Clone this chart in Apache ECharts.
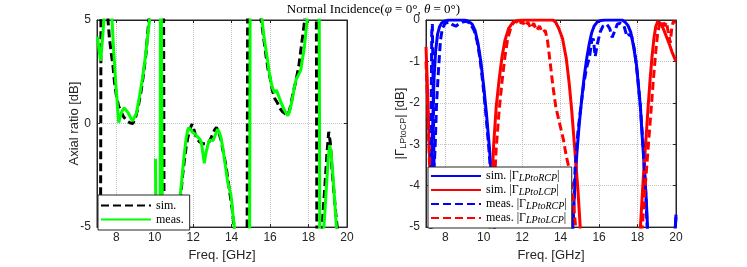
<!DOCTYPE html>
<html><head><meta charset="utf-8">
<script src="https://cdn.jsdelivr.net/npm/echarts@6/dist/echarts.min.js"></script>
<style>html,body{margin:0;padding:0;background:#fff}#c{width:747px;height:267px}</style>
</head><body><div id="c"></div>
<script>
// ---- tick labels ----
const xTicks = [8, 10, 12, 14, 16, 18, 20];
const arTicks = [-5, 0, 5];
const gTicks = [0, -1, -2, -3, -4, -5];

// ---- Axial ratio (left) : [freq GHz, dB] ; +/-12 = outside the plotted range ----
const arSim = [[7.0,-12],[7.17,-12],[7.22,12],[7.5,12],[7.57,5.0],[7.65,4.1],[7.74,3.4],[7.83,2.8],[7.91,2.0],[8.0,1.4],[8.12,0.85],[8.26,0.55],[8.4,0.3],[8.6,0.1],[8.75,0.02],[8.86,0.0],[8.97,0.2],[9.05,0.45],[9.15,0.85],[9.3,1.6],[9.42,2.4],[9.55,3.4],[9.64,4.4],[9.7,5.0],[9.78,12],[10.45,12],[10.5,-12],[11.15,-12],[11.24,-5],[11.35,-3.5],[11.45,-2.5],[11.54,-1.8],[11.64,-1.1],[11.73,-0.65],[11.84,-0.25],[11.94,-0.03],[12.04,-0.3],[12.14,-0.6],[12.3,-0.85],[12.49,-0.97],[12.65,-0.98],[12.8,-0.92],[12.92,-0.72],[13.02,-0.5],[13.12,-0.3],[13.21,-0.18],[13.32,-0.4],[13.44,-0.75],[13.55,-1.3],[13.7,-2.0],[13.87,-3.1],[14.04,-4.2],[14.13,-5.0],[14.18,-12],[14.79,-12],[14.85,12],[15.45,12],[15.53,5.0],[15.6,4.6],[15.7,3.9],[15.8,3.2],[15.9,2.6],[16.0,2.2],[16.12,1.6],[16.25,1.2],[16.38,1.0],[16.5,0.75],[16.64,0.58],[16.78,0.48],[16.9,0.42],[17.0,0.6],[17.1,1.0],[17.2,1.5],[17.33,2.0],[17.5,2.8],[17.62,3.7],[17.72,4.4],[17.8,5.0],[17.88,12],[18.39,12],[18.45,-12],[18.62,-12],[18.7,-5],[18.8,-3.7],[18.88,-2.6],[18.96,-1.4],[19.05,-0.4],[19.13,-0.9],[19.22,-2.2],[19.3,-3.1],[19.4,-4.2],[19.49,-5],[19.55,-12],[20,-12]];
const arMeas = [[7.02,4.2],[7.1,3.6],[7.19,3.03],[7.28,4.0],[7.36,5.0],[7.42,12],[7.72,12],[7.78,5.0],[7.85,3.8],[7.91,2.9],[7.97,2.0],[8.03,1.3],[8.08,0.6],[8.13,0.05],[8.2,0.3],[8.3,0.6],[8.42,0.76],[8.52,0.72],[8.62,0.52],[8.75,0.28],[8.85,0.12],[8.95,0.08],[9.05,0.5],[9.21,1.3],[9.35,2.1],[9.47,2.9],[9.6,3.9],[9.73,5.0],[9.8,12],[9.9,null],[10.04,-1.7],[10.07,-5],[10.09,-12],[10.27,-12],[10.31,12],[10.39,12],[10.44,-12],[11.1,-12],[11.17,-5],[11.27,-4.0],[11.37,-3.1],[11.5,-1.8],[11.63,-0.74],[11.72,-0.3],[11.77,-0.19],[11.87,-0.3],[11.97,-0.42],[12.1,-0.5],[12.24,-0.66],[12.35,-0.75],[12.43,-0.95],[12.5,-1.4],[12.58,-1.92],[12.67,-1.4],[12.76,-1.05],[12.85,-0.8],[12.93,-0.74],[13.04,-0.82],[13.15,-0.55],[13.27,-0.27],[13.35,-0.4],[13.44,-0.66],[13.53,-1.1],[13.62,-1.68],[13.7,-2.2],[13.79,-2.78],[13.88,-3.15],[13.96,-3.41],[14.02,-3.9],[14.08,-4.5],[14.15,-5],[14.2,-12],[14.92,-12],[14.98,12],[15.5,12],[15.58,5.0],[15.68,4.2],[15.78,3.6],[15.88,3.0],[15.95,2.5],[16.05,2.0],[16.13,1.7],[16.24,1.5],[16.33,1.62],[16.4,1.65],[16.5,1.2],[16.6,0.95],[16.73,0.68],[16.84,0.5],[16.92,0.38],[17.0,0.55],[17.1,0.91],[17.2,1.4],[17.28,1.85],[17.36,2.15],[17.45,2.3],[17.53,2.45],[17.6,2.6],[17.68,3.1],[17.76,3.5],[17.85,4.3],[17.93,5.0],[18.0,12],[18.54,12],[18.6,-12],[18.74,-12],[18.8,-5],[18.88,-3.8],[18.96,-2.6],[19.03,-1.6],[19.1,-1.05],[19.17,-1.4],[19.25,-2.3],[19.32,-3.2],[19.4,-4.3],[19.45,-5],[19.5,-12],[20,-12]];

// ---- |Gamma LPtoCP| (right) ----
const rcpSim = [[7.2,-12],[7.25,-5],[7.3,-3.6],[7.35,-2.5],[7.42,-1.4],[7.5,-0.75],[7.6,-0.35],[7.7,-0.17],[7.8,-0.08],[7.95,-0.03],[8.2,0],[9.0,0],[9.2,-0.03],[9.4,-0.1],[9.55,-0.25],[9.7,-0.55],[9.85,-1.0],[10.0,-1.6],[10.15,-2.3],[10.3,-3.1],[10.42,-3.9],[10.56,-5],[10.62,-12],[14.55,-12],[14.62,-5],[14.72,-4.2],[14.84,-3.25],[14.97,-2.5],[15.1,-1.9],[15.23,-1.35],[15.36,-0.92],[15.5,-0.55],[15.62,-0.3],[15.75,-0.14],[15.9,-0.05],[16.1,-0.01],[16.3,0],[17.2,0],[17.35,-0.05],[17.5,-0.13],[17.65,-0.3],[17.8,-0.65],[17.95,-1.1],[18.05,-1.6],[18.15,-2.1],[18.22,-2.65],[18.3,-3.2],[18.38,-3.8],[18.45,-4.3],[18.52,-5],[18.58,-12],[19.9,-12],[19.95,-5.1],[20,-4.7]];
const lcpSim = [[7.0,-0.65],[7.05,-1.3],[7.1,-2.0],[7.15,-2.8],[7.2,-3.5],[7.25,-4.3],[7.3,-5],[7.35,-12],[10.28,-12],[10.33,-5],[10.42,-4.0],[10.52,-3.0],[10.65,-2.1],[10.8,-1.45],[10.95,-0.9],[11.1,-0.5],[11.3,-0.2],[11.5,-0.07],[11.7,-0.02],[12.0,0],[13.6,0],[13.75,-0.06],[13.9,-0.2],[14.1,-0.45],[14.3,-0.95],[14.45,-1.55],[14.58,-2.2],[14.75,-3.2],[14.9,-4.1],[15.02,-5],[15.08,-12],[18.08,-12],[18.15,-5],[18.3,-3.8],[18.42,-3.0],[18.55,-2.1],[18.65,-1.45],[18.75,-0.9],[18.85,-0.45],[18.95,-0.15],[19.05,-0.04],[19.1,-0.02],[19.2,-0.08],[19.35,-0.22],[19.5,-0.4],[19.65,-0.58],[19.8,-0.78],[20.0,-1.0]];
const rcpMeas = [[7.2,-12],[7.24,-5],[7.27,-2.0],[7.3,-0.3],[7.33,-0.1],[7.37,-1.5],[7.42,-3.6],[7.48,-3.0],[7.55,-2.0],[7.65,-1.2],[7.75,-0.5],[7.85,-0.2],[8.0,-0.08],[8.2,-0.05],[8.4,-0.12],[8.55,-0.15],[8.7,-0.1],[8.9,-0.05],[9.1,-0.03],[9.3,-0.08],[9.5,-0.25],[9.65,-0.5],[9.8,-0.9],[9.95,-1.5],[10.1,-2.2],[10.25,-3.0],[10.4,-3.9],[10.55,-5],[10.6,-12],[14.58,-12],[14.65,-5],[14.75,-3.6],[14.9,-2.7],[15.05,-2.1],[15.2,-1.55],[15.35,-1.15],[15.5,-0.9],[15.62,-0.5],[15.7,-0.45],[15.8,-0.88],[15.9,-0.6],[16.05,-0.3],[16.2,-0.15],[16.4,-0.1],[16.55,-0.2],[16.68,-0.42],[16.8,-0.28],[16.95,-0.1],[17.1,-0.08],[17.3,-0.15],[17.45,-0.4],[17.55,-0.35],[17.7,-0.4],[17.85,-0.75],[18.0,-1.35],[18.15,-2.1],[18.3,-3.1],[18.42,-4.1],[18.5,-5],[18.56,-12],[19.9,-12],[19.95,-5.1],[20,-4.75]];
const lcpMeas = [[7.0,-1.0],[7.05,-1.6],[7.15,-3.0],[7.25,-4.5],[7.3,-5],[7.35,-12],[10.4,-12],[10.45,-5],[10.55,-4.0],[10.65,-3.1],[10.8,-2.2],[10.95,-1.5],[11.1,-0.9],[11.25,-0.45],[11.4,-0.2],[11.55,-0.06],[11.7,-0.03],[11.85,-0.12],[12.0,-0.02],[12.15,-0.15],[12.3,-0.05],[12.45,-0.2],[12.6,-0.08],[12.75,-0.25],[12.9,-0.15],[13.05,-0.3],[13.2,-0.25],[13.32,-0.5],[13.45,-1.0],[13.6,-1.6],[13.75,-2.1],[13.95,-2.5],[14.15,-2.9],[14.3,-3.3],[14.5,-3.7],[14.65,-4.3],[14.78,-5],[14.84,-12],[18.2,-12],[18.25,-5],[18.4,-4.0],[18.55,-3.1],[18.7,-2.2],[18.82,-1.45],[18.95,-0.75],[19.05,-0.3],[19.15,-0.1],[19.3,-0.02],[19.4,-0.15],[19.5,-0.05],[19.6,-0.3],[19.7,-0.55],[19.78,-0.2],[19.85,-0.05],[19.95,-0.02],[20,-0.05]];

const legendSub = {sR:['sim.','LPtoRCP'], sL:['sim.','LPtoLCP'], mR:['meas.','LPtoRCP'], mL:['meas.','LPtoLCP']};

const axisCol = '#262626';
const sans = 'Liberation Sans';
const serif = 'Liberation Serif';
const gridLine = {show:true, lineStyle:{type:'dotted', color:'#c4c4c4', width:1}};
const fmt = ticks => v => { const r = Math.round(v*1000)/1000; return ticks.indexOf(r) >= 0 ? String(r) : ''; };

function xAx(gi, pos, main) {
  return {
    gridIndex: gi, type: 'value', min: 7, max: 20, interval: 0.5, position: pos,
    axisLine: {show: true, onZero: false, lineStyle: {color: axisCol, width: 1}},
    axisTick: {show: true, inside: true, length: 3, customValues: xTicks, lineStyle: {color: axisCol}},
    axisLabel: {show: main, customValues: xTicks, formatter: fmt(xTicks), color: axisCol, fontSize: 12, fontFamily: sans, margin: 5},
    splitLine: main ? gridLine : {show: false},
    name: main ? 'Freq. [GHz]' : '', nameLocation: 'middle', nameGap: 16,
    nameTextStyle: {fontSize: 13, fontFamily: sans, color: axisCol}
  };
}
function yAx(gi, pos, main, min, max, interval, ticks, name) {
  return {
    gridIndex: gi, type: 'value', min: min, max: max, interval: interval, position: pos,
    axisLine: {show: true, onZero: false, lineStyle: {color: axisCol, width: 1}},
    axisTick: {show: true, inside: true, length: 3, customValues: ticks, lineStyle: {color: axisCol}},
    axisLabel: {show: main, customValues: ticks, formatter: fmt(ticks), color: axisCol, fontSize: 12, fontFamily: sans, margin: 6},
    splitLine: main ? gridLine : {show: false},
    name: main ? name : '', nameLocation: 'middle', nameGap: gi === 1 ? 18 : 16,
    nameMoveOverlap: false,
    nameTextStyle: {fontSize: 13, fontFamily: sans, color: axisCol,
      rich: {g: {fontSize: 13, fontFamily: sans, color: axisCol, lineHeight: 16},
             s: {fontSize: 9, fontFamily: sans, color: axisCol, lineHeight: 9, verticalAlign: 'bottom'}}}
  };
}

function ln(name, data, color, dashed, xi, yi) {
  return {
    name: name, type: 'line', xAxisIndex: xi, yAxisIndex: yi, data: data,
    showSymbol: false, symbol: 'none', clip: true, connectNulls: false,
    color: color,
    lineStyle: {color: color, width: 3, type: dashed ? [8, 4] : 'solid'},
    emphasis: {disabled: true}, animation: false
  };
}

const chart = echarts.init(document.getElementById('c'), null, {renderer: 'canvas'});
chart.setOption({
  animation: false,
  backgroundColor: '#ffffff',
  title: {
    text: '{n|Normal Incidence(}{i|φ}{n| = 0°, }{i|θ}{n| = 0°)}',
    left: 'center', top: 3, padding: 0,
    textStyle: {fontWeight: 'normal', rich: {
      n: {fontFamily: serif, fontSize: 13, fontWeight: 'normal', color: '#000'},
      i: {fontFamily: serif, fontSize: 13, fontWeight: 'normal', fontStyle: 'italic', color: '#000'}
    }}
  },
  grid: [
    {left: 97, top: 20, width: 250, height: 212, show: true, borderColor: axisCol, borderWidth: 1, backgroundColor: '#fff'},
    {left: 426, top: 20, width: 250, height: 212, show: true, borderColor: axisCol, borderWidth: 1, backgroundColor: '#fff'}
  ],
  xAxis: [xAx(0, 'bottom', true), xAx(0, 'top', false), xAx(1, 'bottom', true), xAx(1, 'top', false)],
  yAxis: [
    yAx(0, 'left', true, -5, 5, 1, arTicks, 'Axial ratio [dB]'),
    yAx(0, 'right', false, -5, 5, 1, arTicks, ''),
    yAx(1, 'left', true, -5, 0, 0.2, gTicks, '{g||Γ}{s|LPtoCP}{g|| [dB]}'),
    yAx(1, 'right', false, -5, 0, 0.2, gTicks, '')
  ],
  legend: [
    {
      data: ['sim.', 'meas.'], orient: 'vertical', left: 98, top: 195,
      itemWidth: 50, itemHeight: 12, itemGap: 1, padding: [4, 6, 4, 2],
      borderColor: axisCol, borderWidth: 1, backgroundColor: '#fff', selectedMode: false,
      itemStyle: {opacity: 0},
      textStyle: {fontFamily: serif, fontSize: 12, color: '#000', lineHeight: 13}
    },
    {
      data: ['sR', 'sL', 'mR', 'mL'], orient: 'vertical', left: 428, top: 167,
      itemWidth: 50, itemHeight: 14, itemGap: 1, padding: [3, 5, 3, 2],
      borderColor: axisCol, borderWidth: 1, backgroundColor: '#fff', selectedMode: false,
      itemStyle: {opacity: 0},
      formatter: n => '{t|' + legendSub[n][0] + ' |Γ}{s|' + legendSub[n][1] + '}{t||}',
      textStyle: {fontFamily: serif, fontSize: 12, color: '#000',
        rich: {t: {fontFamily: serif, fontSize: 12, color: '#000', lineHeight: 14},
               s: {fontFamily: serif, fontSize: 10, fontStyle: 'italic', color: '#000', lineHeight: 10, verticalAlign: 'bottom'}}}
    }
  ],
  series: [
    ln('sim.', arSim, '#000000', true, 0, 0),
    ln('meas.', arMeas, '#00ff00', false, 0, 0),
    ln('sR', rcpSim, '#0000ff', false, 2, 2),
    ln('sL', lcpSim, '#ff0000', false, 2, 2),
    ln('mR', rcpMeas, '#0000ff', true, 2, 2),
    ln('mL', lcpMeas, '#ff0000', true, 2, 2)
  ]
});
</script>
</body></html>
